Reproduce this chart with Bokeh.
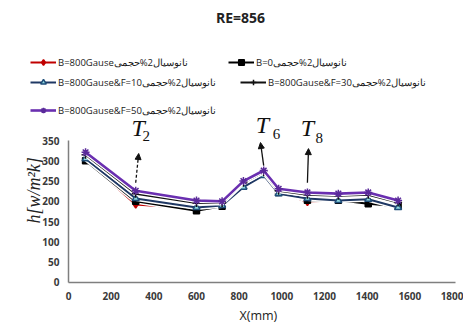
from math import pi
from bokeh.plotting import figure
from bokeh.models import Range1d, Legend, LegendItem, Label, Arrow, NormalHead
from bokeh.embed import file_html
from bokeh.resources import INLINE

# ---- data ----
x_mm = [80, 315, 600, 720, 820, 915, 985, 1120, 1265, 1405, 1545]
h_b800 = [302, 192, 182, 189, 240, 270, 224, 198, 205, 198, 190]
h_b0 = [300, 200, 177, 188, 238, 268, 222, 203, 203, 194, 188]
h_f10 = [305, 207, 185, 190, 235, 264, 219, 207, 202, 205, 185]
h_f30 = [315, 219, 196, 196, 246, 272, 226, 216, 214, 216, 197]
h_f50 = [321, 226, 202, 200, 250, 276, 231, 222, 219, 222, 202]

phrase = "نانوسیال2%حجمی"
names = ["B=800Gause" + phrase, "B=0" + phrase, "B=800Gause&F=10" + phrase,
         "B=800Gause&F=30" + phrase, "B=800Gause&F=50" + phrase]
x_ticks = list(range(0, 1801, 200))
y_ticks = list(range(0, 351, 50))

# frame covers the whole canvas; axes are pinned at zero
p = figure(width=463, height=325, output_backend="svg", toolbar_location=None,
           x_range=Range1d(-318.75, 1851.6), y_range=Range1d(-106.0, 695.1),
           min_border=0)
p.grid.visible = False
p.outline_line_color = None
p.background_fill_color = "white"

for ax in (p.xaxis, p.yaxis):
    ax.fixed_location = 0
    ax.axis_line_color = "#7f7f7f"
    ax.axis_line_width = 1.5
    ax.major_tick_out = 0
    ax.major_tick_in = 0
    ax.minor_tick_out = 0
    ax.minor_tick_in = 0
    ax.major_label_text_font = "Open Sans"
    ax.major_label_text_font_size = "10px"
    ax.major_label_text_font_style = "bold"
    ax.major_label_text_color = "#3a3a3a"
p.xaxis.ticker = x_ticks
p.yaxis.ticker = y_ticks
p.xaxis.bounds = (0, 1815)
p.yaxis.bounds = (0, 350)
p.xaxis.major_label_standoff = 10
p.yaxis.major_label_standoff = 9

styles = [
    dict(y=h_b800, line="#c00000", marker="diamond", fill="#c00000", mline="#c00000", size=7, w=2),
    dict(y=h_b0, line="#000000", marker="square", fill="#000000", mline="#000000", size=6, w=2),
    dict(y=h_f10, line="#1f3864", marker="triangle", fill="#8fd8df", mline="#1f4e79", size=7, w=2),
    dict(y=h_f30, line="#111111", marker="cross", fill="#111111", mline="#111111", size=8, w=2),
    dict(y=h_f50, line="#6a2fb0", marker="asterisk", fill="#6a2fb0", mline="#5a2a9a", size=8, w=2.6),
]

renderers = []
for s in styles:
    p.line(x_mm, s["y"], line_color="white", line_width=5)
    lr = p.line(x_mm, s["y"], line_color=s["line"], line_width=s["w"])
    mr = p.scatter(x_mm, s["y"], marker=s["marker"], size=s["size"],
                   fill_color=s["fill"], line_color=s["mline"], line_width=1.5)
    renderers.append((lr, mr))

# legends placed individually (positions relative to frame bottom-left)
leg_pos = [(30, 256), (228, 256), (30, 236), (240, 236), (30, 208)]
for (lr, mr), name, loc in zip(renderers, names, leg_pos):
    leg = Legend(items=[LegendItem(label=name, renderers=[lr, mr])], location=loc,
                 padding=0, margin=0, spacing=0, border_line_color=None,
                 background_fill_alpha=0, glyph_width=26, glyph_height=14,
                 label_height=14, label_standoff=2,
                 label_text_font="Open Sans", label_text_font_size="9.5px",
                 label_text_color="#1a1a1a")
    p.add_layout(leg, "center")

# title
p.add_layout(Label(x=806, y=653, text="RE=856", text_align="center",
                   text_baseline="middle", text_font="Open Sans",
                   text_font_size="14px", text_font_style="bold",
                   text_color="#222222"))

# axis titles
p.add_layout(Label(x=-164, y=227, text="h[w/m²k]", angle=pi / 2,
                   text_align="center", text_baseline="middle",
                   text_font="Liberation Serif", text_font_size="18px",
                   text_font_style="italic", text_color="#222222"))
p.add_layout(Label(x=890, y=-82, text="X(mm)", text_align="center",
                   text_baseline="middle", text_font="Open Sans",
                   text_font_size="12.5px", text_color="#222222"))

# T annotations with arrows
t_marks = [(1, "2", "3 2"), (5, "6", "solid"), (7, "8", "solid")]
t_offsets = {1: ((0, 246), (14, 318), (12, 380), (50, 360)),
             5: ((0, 288), (-15, 345), (-6, 387), (60, 365)),
             7: ((0, 246), (5, 330), (0, 380), (56, 357))}
for idx, sub, dash in t_marks:
    (dx0, y0), (dx1, y1), (dxt, yt), (dxs, ys) = t_offsets[idx]
    xc = x_mm[idx]
    p.add_layout(Arrow(end=NormalHead(size=6, fill_color="#111111", line_color="#111111"),
                       x_start=xc + dx0, y_start=y0, x_end=xc + dx1, y_end=y1,
                       line_color="#111111", line_width=1.3, line_dash=dash))
    p.add_layout(Label(x=xc + dxt, y=yt, text="T", text_align="center",
                       text_baseline="middle", text_font="Liberation Serif",
                       text_font_size="24px", text_font_style="italic",
                       text_color="#111111"))
    p.add_layout(Label(x=xc + dxs, y=ys, text=sub, text_align="center",
                       text_baseline="middle", text_font="Liberation Serif",
                       text_font_size="15px", text_color="#111111"))

open("out.html", "w").write(file_html(p, INLINE))
